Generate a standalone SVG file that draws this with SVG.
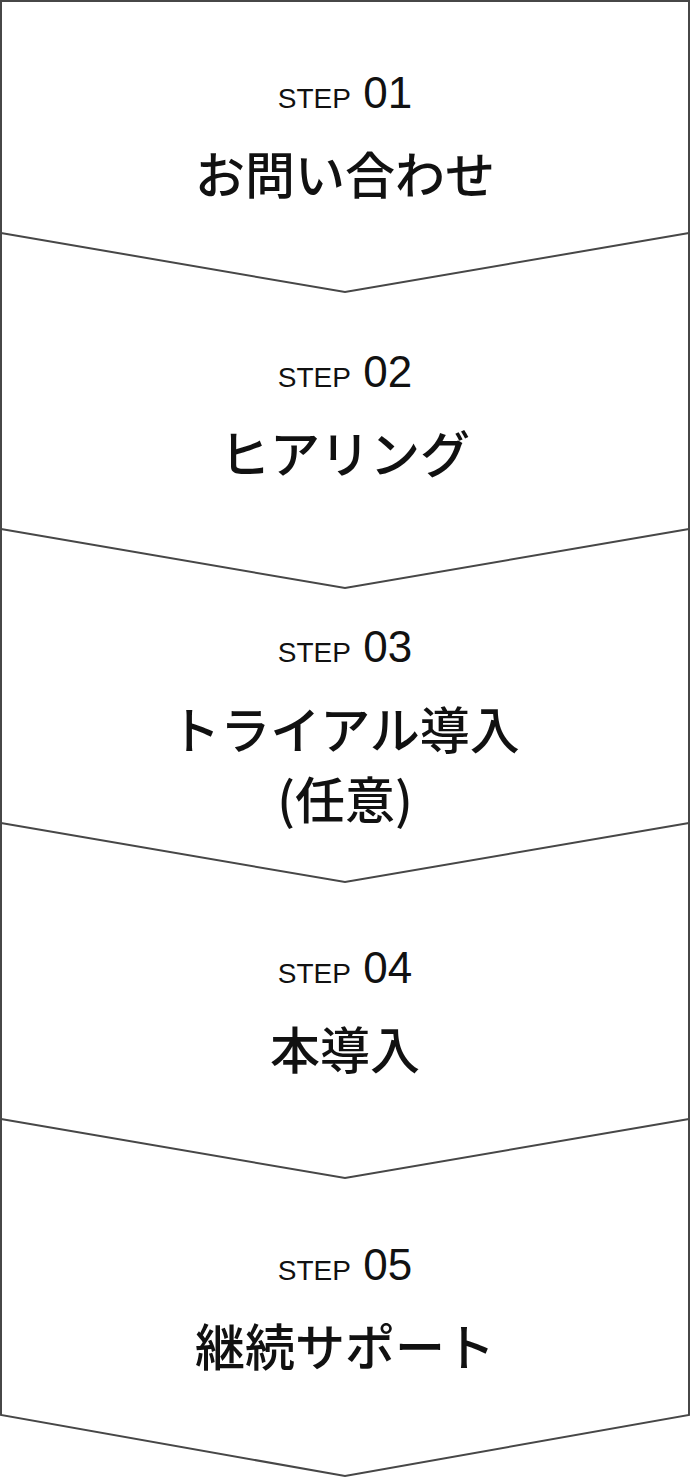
<svg xmlns="http://www.w3.org/2000/svg" width="692" height="1478" viewBox="0 0 692 1478">
<style>
.box{fill:none;stroke:#474747;stroke-width:2;stroke-linejoin:miter}
.step{font-family:"Liberation Sans",Arial,sans-serif;fill:#111;text-anchor:middle}
.s{font-size:28px}
.n{font-size:44px}
.t{font-family:"Noto Sans CJK JP","Noto Sans",sans-serif;font-size:50px;font-weight:500;fill:#111;text-anchor:middle}
</style>
<rect width="692" height="1478" fill="#ffffff"/>
<g id="connectors">
<polyline class="box" points="1,233 345,292 689,233"/>
<polyline class="box" points="1,529 345,588 689,529"/>
<polyline class="box" points="1,823 345,882 689,823"/>
<polyline class="box" points="1,1119 345,1178 689,1119"/>
</g>
<g id="outline">
<polygon class="box" points="1,1 689,1 689,1415 345,1476 1,1415"/>
</g>
<g id="step1">
<text class="step" x="345" y="108"><tspan class="s">STEP</tspan><tspan class="n"> 01</tspan></text>
<text class="t" x="345" y="194">お問い合わせ</text>
</g>
<g id="step2">
<text class="step" x="345" y="387"><tspan class="s">STEP</tspan><tspan class="n"> 02</tspan></text>
<text class="t" x="345" y="473">ヒアリング</text>
</g>
<g id="step3">
<text class="step" x="345" y="662"><tspan class="s">STEP</tspan><tspan class="n"> 03</tspan></text>
<text class="t" x="345" y="749">トライアル導入</text>
<text class="t" x="345" y="819">(任意)</text>
</g>
<g id="step4">
<text class="step" x="345" y="983"><tspan class="s">STEP</tspan><tspan class="n"> 04</tspan></text>
<text class="t" x="345" y="1069">本導入</text>
</g>
<g id="step5">
<text class="step" x="345" y="1280"><tspan class="s">STEP</tspan><tspan class="n"> 05</tspan></text>
<text class="t" x="345" y="1366">継続サポート</text>
</g>
</svg>
